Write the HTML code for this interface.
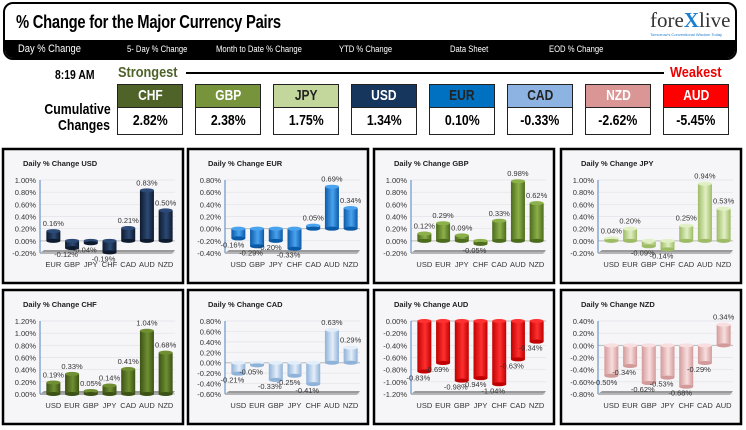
<!DOCTYPE html>
<html><head><meta charset="utf-8">
<style>
body{margin:0;width:746px;height:430px;background:#fff;overflow:hidden;font-family:"Liberation Sans",sans-serif;position:relative}
.abs{position:absolute}
#hdr{left:3px;top:2px;width:730px;height:54px;border:2px solid #000;border-radius:10px;overflow:hidden;background:#fff}
#title{left:11px;top:8px;font-size:18px;font-weight:bold;transform:scaleX(0.82);transform-origin:left;letter-spacing:-0.3px}
#nav{left:0;top:36px;width:730px;height:18px;background:#000;color:#fff;font-size:9px}
.nv{position:absolute;top:4px;white-space:nowrap;transform:scaleX(0.85);transform-origin:left}
.cb{position:absolute;width:64px;border:1px solid #222;text-align:center;font-weight:bold}
.ch{height:22px;line-height:22px;font-size:15px}
</style></head><body>
<div id="hdr" class="abs">
 <div id="title" class="abs">% Change for the Major Currency Pairs</div>
 <div class="abs" style="left:645px;top:4px;font-family:'Liberation Serif',serif;font-size:21px;color:#333">fore<span style="color:#1a7fd0;font-weight:bold">X</span>live</div>
 <div class="abs" style="left:645px;top:28px;font-size:4px;color:#1a7fd0">Tomorrow's Conventional Wisdom Today</div>
 <div id="nav" class="abs">
  <span class="nv" style="left:13px;font-size:11px;top:3px">Day % Change</span>
  <span class="nv" style="left:122px">5- Day % Change</span>
  <span class="nv" style="left:211px">Month to Date % Change</span>
  <span class="nv" style="left:334px">YTD % Change</span>
  <span class="nv" style="left:445px">Data Sheet</span>
  <span class="nv" style="left:544px">EOD % Change</span>
 </div>
</div>
<div class="abs" style="left:55px;top:67px;font-size:13px;font-weight:bold;transform:scaleX(0.8);transform-origin:left">8:19 AM</div>
<div class="abs" style="left:118px;top:64px;font-size:15px;font-weight:bold;color:#4f6228;transform:scaleX(0.85);transform-origin:left">Strongest</div>
<div class="abs" style="left:186px;top:72px;width:478px;height:2px;background:#000"></div>
<div class="abs" style="left:670px;top:64px;font-size:15px;font-weight:bold;color:#e00;transform:scaleX(0.85);transform-origin:left">Weakest</div>
<div class="abs" style="left:30px;top:102px;font-size:15px;font-weight:bold;text-align:right;line-height:16px;width:80px;transform:scaleX(0.82);transform-origin:right">Cumulative<br>Changes</div>
<div id="cum"></div>
<svg id="charts" class="abs" style="left:0;top:0" width="746" height="430"></svg>
<script>
const cumCurrencies=["CHF","GBP","JPY","USD","EUR","CAD","NZD","AUD"];
const cumValues=["2.82%","2.38%","1.75%","1.34%","0.10%","-0.33%","-2.62%","-5.45%"];
const cumColors=["#4f6228","#77933c","#c3d69b","#17365d","#0070c0","#8db3e2","#d99694","#ff0000"];
const cumText=["#fff","#fff","#222","#fff","#222","#222","#fff","#fff"];
const cum=document.getElementById('cum');
cumCurrencies.forEach((c,i)=>{
  const d=document.createElement('div');
  d.className='cb';d.style.left=(117+i*78)+'px';d.style.top='84px';d.style.height='49px';
  
  
  d.innerHTML='<div class="ch" style="background:'+cumColors[i]+';color:'+cumText[i]+';border-bottom:1px solid #222"><span style="display:inline-block;transform:scaleX(0.8)">'+c+'</span></div><div style="height:26px;line-height:26px;font-size:15px"><span style="display:inline-block;transform:scaleX(0.82)">'+cumValues[i]+'</span></div>';
  cum.appendChild(d);
});

const usdCats=["EUR","GBP","JPY","CHF","CAD","AUD","NZD"], usdVals=[0.16,-0.12,-0.04,-0.19,0.21,0.83,0.50], usdTicks=[-0.2,0,0.2,0.4,0.6,0.8,1.0];
const eurCats=["USD","GBP","JPY","CHF","CAD","AUD","NZD"], eurVals=[-0.16,-0.29,-0.20,-0.33,0.05,0.69,0.34], eurTicks=[-0.4,-0.2,0,0.2,0.4,0.6,0.8];
const gbpCats=["USD","EUR","JPY","CHF","CAD","AUD","NZD"], gbpVals=[0.12,0.29,0.09,-0.05,0.33,0.98,0.62], gbpTicks=[-0.2,0,0.2,0.4,0.6,0.8,1.0];
const jpyCats=["USD","EUR","GBP","CHF","CAD","AUD","NZD"], jpyVals=[0.04,0.20,-0.09,-0.14,0.25,0.94,0.53], jpyTicks=[-0.2,0,0.2,0.4,0.6,0.8,1.0];
const chfCats=["USD","EUR","GBP","JPY","CAD","AUD","NZD"], chfVals=[0.19,0.33,0.05,0.14,0.41,1.04,0.68], chfTicks=[0,0.2,0.4,0.6,0.8,1.0,1.2];
const cadCats=["USD","EUR","GBP","JPY","CHF","AUD","NZD"], cadVals=[-0.21,-0.05,-0.33,-0.25,-0.41,0.63,0.29], cadTicks=[-0.6,-0.4,-0.2,0,0.2,0.4,0.6,0.8];
const audCats=["USD","EUR","GBP","JPY","CHF","CAD","NZD"], audVals=[-0.83,-0.69,-0.98,-0.94,-1.04,-0.63,-0.34], audTicks=[-1.2,-1.0,-0.8,-0.6,-0.4,-0.2,0];
const nzdCats=["USD","EUR","GBP","JPY","CHF","CAD","AUD"], nzdVals=[-0.50,-0.34,-0.62,-0.53,-0.68,-0.29,0.34], nzdTicks=[-0.8,-0.6,-0.4,-0.2,0,0.2,0.4];

const panels=[
 {id:'usd',x:3,y:149,title:'Daily % Change USD',cats:usdCats,vals:usdVals,ticks:usdTicks,c1:'#0e1a2e',c2:'#2c4a75'},
 {id:'eur',x:188,y:149,title:'Daily % Change EUR',cats:eurCats,vals:eurVals,ticks:eurTicks,c1:'#0b5aa8',c2:'#4aa3ee'},
 {id:'gbp',x:374,y:149,title:'Daily % Change GBP',cats:gbpCats,vals:gbpVals,ticks:gbpTicks,c1:'#4c6b1c',c2:'#8cb04a'},
 {id:'jpy',x:561,y:149,title:'Daily % Change JPY',cats:jpyCats,vals:jpyVals,ticks:jpyTicks,c1:'#9ebb66',c2:'#e1f0c4'},
 {id:'chf',x:3,y:290,title:'Daily % Change CHF',cats:chfCats,vals:chfVals,ticks:chfTicks,c1:'#3c5215',c2:'#6f8f32'},
 {id:'cad',x:188,y:290,title:'Daily % Change CAD',cats:cadCats,vals:cadVals,ticks:cadTicks,c1:'#8fb2d8',c2:'#e4eef9'},
 {id:'aud',x:374,y:290,title:'Daily % Change AUD',cats:audCats,vals:audVals,ticks:audTicks,c1:'#c00000',c2:'#ff3030'},
 {id:'nzd',x:561,y:290,title:'Daily % Change NZD',cats:nzdCats,vals:nzdVals,ticks:nzdTicks,c1:'#d39a9a',c2:'#f8dede'}
];
const NS='http://www.w3.org/2000/svg';
const svg=document.getElementById('charts');
function mk(t,a,p){const e=document.createElementNS(NS,t);for(const k in a)e.setAttribute(k,a[k]);(p||svg).appendChild(e);return e;}
const defs=mk('defs',{});
panels.forEach(P=>{
  const g=mk('g',{});
  
  
  const grad=mk('linearGradient',{id:'g'+P.id,x1:0,x2:1,y1:0,y2:0},defs);
  mk('stop',{offset:'0','stop-color':P.c1},grad);
  mk('stop',{offset:'0.55','stop-color':P.c2},grad);
  mk('stop',{offset:'1','stop-color':P.c1},grad);
  const W=180,H=134;
  const bg=mk('rect',{x:P.x,y:P.y,width:W,height:H,fill:'#f6f6f9',stroke:'#000','stroke-width':2.5},g);
  
  const t=mk('text',{x:P.x+20,y:P.y+17,'font-size':7.5,'font-weight':'bold',fill:'#222'},g);
  t.textContent=P.title;
  
  const tmin=P.ticks[0],tmax=P.ticks[P.ticks.length-1];
  const top=P.y+31,bot=P.y+104,left=P.x+37,right=P.x+172;
  const yS=v=>bot-(v-tmin)/(tmax-tmin)*(bot-top);
  mk('polygon',{points:`${left},${bot} ${left+4},${bot-3} ${right},${bot-3} ${right-3},${bot+1} ${left},${bot+1}`,fill:'#9a9a9a'},g);
  P.ticks.forEach(v=>{
    mk('line',{x1:left,x2:right,y1:yS(v),y2:yS(v),stroke:'#e2e2e8','stroke-width':0.7},g);
    const tl=mk('text',{x:left-4,y:yS(v)+3,'font-size':7.5,'text-anchor':'end',fill:'#333'},g);
    tl.textContent=v.toFixed(2)+'%';
    
  });
  mk('line',{x1:left,x2:right,y1:yS(0),y2:yS(0),stroke:'#bbb','stroke-width':1},g);
  mk('line',{x1:left,x2:left,y1:top,y2:bot,stroke:'#4f81bd','stroke-width':1},g);
  const n=P.cats.length,step=(right-left-4)/n;
  P.cats.forEach((c,i)=>{
    const cx=left+4+step*(i+0.5),v=P.vals[i];
    const y0=yS(0),y1=yS(v),bw=14;
    const yt=Math.min(y0,y1),h=Math.abs(y1-y0);
    const b=mk('rect',{x:cx-bw/2,y:yt,width:bw,height:Math.max(h,1),fill:'url(#g'+P.id+')'},g);
    
    
    mk('ellipse',{cx:cx,cy:yt,rx:bw/2,ry:2,fill:P.c2},g);
    mk('ellipse',{cx:cx,cy:yt+h,rx:bw/2,ry:2,fill:P.c1},g);
    const lab=mk('text',{x:v>=0?cx:cx-6,y:v>=0?yt-5:yt+h+9,'font-size':7.5,'text-anchor':'middle',fill:'#333'},g);
    lab.textContent=v.toFixed(2)+'%';
    
    const cl=mk('text',{x:cx,y:bot+14,'font-size':7.5,'text-anchor':'middle',fill:'#333'},g);
    cl.textContent=c;
    
  });
});
</script>
</body></html>
